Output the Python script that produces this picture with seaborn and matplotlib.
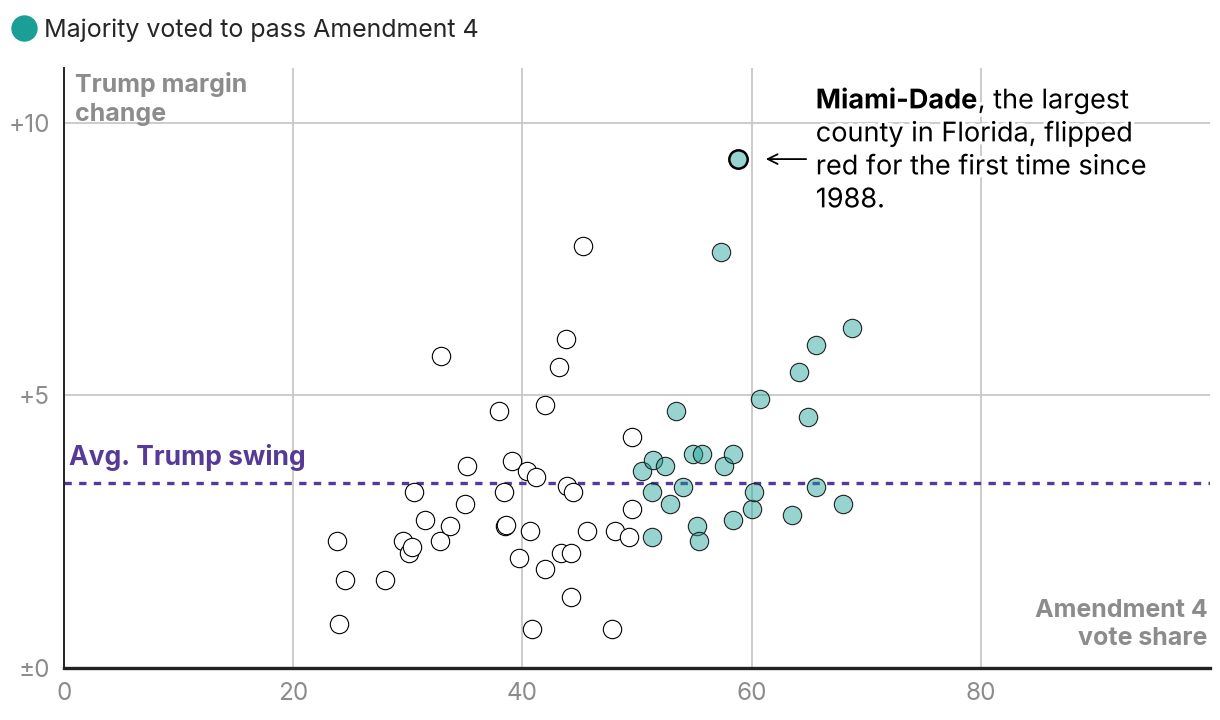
import numpy as np
import pandas as pd
import matplotlib.pyplot as plt
import matplotlib.patheffects as pe
from matplotlib.lines import Line2D
import seaborn as sns

# Condados de Florida: voto a la enmienda 4 (%) y cambio de margen de Trump (pts)
no_x = [23.8, 24.5, 24.0, 28.0, 29.6, 30.1, 30.4, 30.5, 31.5, 32.8, 33.7, 32.9, 35.0,
        35.2, 38.0, 38.4, 38.5, 38.6, 39.1, 39.7, 40.4, 40.7, 41.2, 40.8, 42.0, 42.0,
        43.2, 43.8, 43.4, 44.2, 43.9, 44.4, 44.2, 45.3, 45.6, 47.8, 48.1, 49.3, 49.6, 49.6]
no_y = [2.32, 1.62, 0.81, 1.62, 2.32, 2.11, 2.22, 3.22, 2.72, 2.32, 2.61, 5.72, 3.01,
        3.71, 4.72, 3.22, 2.61, 2.62, 3.80, 2.02, 3.62, 2.52, 3.51, 0.72, 4.82, 1.82,
        5.51, 6.03, 2.11, 2.11, 3.33, 3.22, 1.30, 7.74, 2.52, 0.72, 2.52, 2.41, 4.23, 2.92]

yes_x = [53.4, 50.4, 51.4, 52.4, 51.3, 52.9, 54.0, 54.9, 55.7, 57.6, 58.4, 55.2, 55.4,
         51.3, 58.4, 60.0, 60.2, 60.7, 64.1, 65.6, 68.8, 64.9, 65.6, 63.5, 68.0, 57.3]
yes_y = [4.72, 3.62, 3.82, 3.71, 3.22, 3.01, 3.31, 3.92, 3.92, 3.71, 3.92, 2.61, 2.32,
         2.41, 2.72, 2.92, 3.22, 4.93, 5.42, 5.92, 6.23, 4.61, 3.31, 2.81, 3.01, 7.63]

miami_x = [58.8]
miami_y = [9.33]

avg_swing = 3.4

x_ticks = [0, 20, 40, 60, 80]
y_ticks = [0, 5, 10]
y_tick_labels = ["±0", "+5", "+10"]

teal = "#1a9e96"
teal_fill = (0.10, 0.62, 0.59, 0.45)
purple = "#553a97"
gray_txt = "#8c8c8c"

df = pd.DataFrame({
    "share": no_x + yes_x,
    "swing": no_y + yes_y,
    "passed": ["no"] * len(no_x) + ["yes"] * len(yes_x),
})

sns.set_style("white")
plt.rcParams["font.family"] = ["Inter", "DejaVu Sans"]

fig = plt.figure(figsize=(12.2, 7.2), dpi=100)
ax = fig.add_axes([64 / 1220, 1 - 668 / 720, 1146 / 1220, 600 / 720])

# Cuadrícula
for xv in x_ticks[1:]:
    ax.axvline(xv, color="#c4c4c4", lw=1.2, zorder=0)
for yv in y_ticks[1:]:
    ax.axhline(yv, color="#c4c4c4", lw=1.2, zorder=0)

# Puntos
sns.scatterplot(data=df[df["passed"] == "no"], x="share", y="swing", ax=ax,
                color="white", edgecolor="black", linewidth=0.8, s=175, zorder=3,
                legend=False)
sns.scatterplot(data=df[df["passed"] == "yes"], x="share", y="swing", ax=ax,
                color=teal, edgecolor="#222222", linewidth=0.8, s=175, zorder=3,
                legend=False)
ax.collections[-1].set_facecolor(teal_fill)

sns.scatterplot(x=miami_x, y=miami_y, ax=ax, color=teal, edgecolor="black",
                linewidth=1.8, s=175, zorder=4, legend=False)
ax.collections[-1].set_facecolor(teal_fill)

# Promedio
ax.axhline(avg_swing, color=purple, lw=2.4, ls=(0, (2.2, 2.2)), zorder=2)
ax.text(0.4, avg_swing + 0.32, "Avg. Trump swing", color=purple, fontsize=19,
        fontweight="bold", ha="left", va="baseline", zorder=5)

# Ejes
ax.set_xlim(0, 100)
ax.set_ylim(0, 11)
ax.set_xticks(x_ticks)
ax.set_yticks(y_ticks)
ax.set_yticklabels(y_tick_labels)
ax.tick_params(axis="both", length=0, labelsize=17.5, labelcolor=gray_txt)
ax.tick_params(axis="x", pad=10)
ax.tick_params(axis="y", pad=10)
ax.set_xlabel("")
ax.set_ylabel("")
for side in ["top", "right"]:
    ax.spines[side].set_visible(False)
ax.spines["left"].set_color("#222222")
ax.spines["left"].set_linewidth(1.4)
ax.spines["bottom"].set_color("#222222")
ax.spines["bottom"].set_linewidth(2.4)
ax.spines["left"].set_zorder(6)
ax.spines["bottom"].set_zorder(6)

ax.text(0.0096, 0.993, "Trump margin\nchange", transform=ax.transAxes, ha="left",
        va="top", color=gray_txt, fontsize=18, fontweight="bold", linespacing=1.3)
ax.text(0.998, 0.03, "Amendment 4\nvote share", transform=ax.transAxes, ha="right",
        va="bottom", color=gray_txt, fontsize=18, fontweight="bold", linespacing=1.3,
        multialignment="right")

# Anotación Miami-Dade
halo = [pe.withStroke(linewidth=5, foreground="white")]
t1 = ax.text(65.6, 10.26, "Miami-Dade", fontsize=19.5, fontweight="bold",
             ha="left", va="baseline", color="black", path_effects=halo, zorder=5)
ax.annotate(", the largest", xy=(1, 0), xycoords=t1, ha="left", va="bottom",
            fontsize=19.5, color="black", path_effects=halo, zorder=5)
lines = ["county in Florida, flipped", "red for the first time since", "1988."]
for i, line in enumerate(lines):
    ax.text(65.6, 10.26 - 0.605 * (i + 1), line, fontsize=19.5, ha="left",
            va="baseline", color="black", path_effects=halo, zorder=5)
ax.annotate("", xy=(61.0, miami_y[0]), xytext=(65.0, miami_y[0]),
            arrowprops=dict(arrowstyle="->,head_length=0.7,head_width=0.35",
                            lw=1.3, color="black"), zorder=5)

# Leyenda
handle = Line2D([], [], marker="o", ls="", markersize=19, markerfacecolor=teal,
                markeredgecolor="none")
fig.legend(handles=[handle], labels=["Majority voted to pass Amendment 4"],
           loc="center left", bbox_to_anchor=(11 / 1220, 1 - 30 / 720), frameon=False,
           fontsize=18, handlelength=1.0, handletextpad=0.3, borderpad=0,
           borderaxespad=0)

fig.savefig("out.png", dpi=100)
plt.close(fig)
